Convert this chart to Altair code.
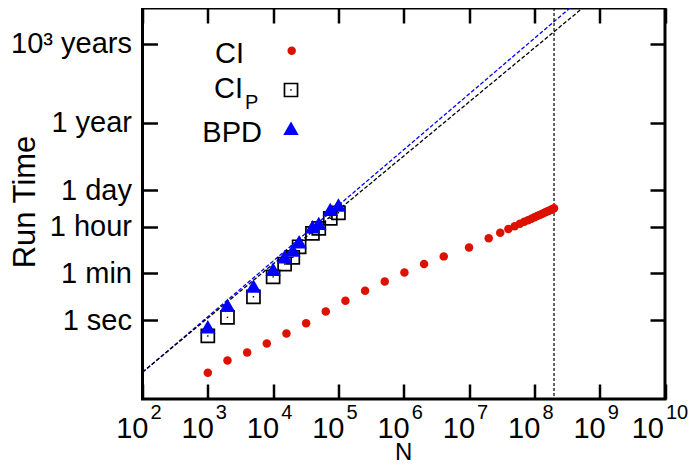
import altair as alt
import pandas as pd

# ---------------- data ----------------
ci_N = [1000, 2000, 4000, 8000, 16000, 32000, 64000, 128000, 256000, 512000,
        1024000, 2048000, 4096000, 1e7, 2e7, 3e7, 4e7, 5e7, 6e7, 7e7, 8e7, 9e7,
        1e8, 1.1e8, 1.2e8, 1.3e8, 1.4e8, 1.5e8, 1.6e8, 1.7e8, 1.8e8, 1.9e8, 2e8]
ci_T = [0.01, 0.029, 0.059, 0.13, 0.31, 0.75, 2.1, 5.4, 13, 29,
        65, 135, 264, 580, 1280, 2090, 2880, 3710, 4550, 5420, 6300, 7180,
        8090, 9000, 9930, 10870, 11830, 12770, 13740, 14690, 15670, 16670, 17660]

cip_N = [1000, 2000, 5000, 10000, 15000, 20000, 25000, 40000, 50000, 75000, 100000]
cip_T = [0.25, 1.27, 7.7, 44, 135, 242, 612, 1980, 3070, 7360, 12000]

bpd_N = [1000, 2000, 5000, 10000, 15000, 20000, 25000, 40000, 50000, 75000, 100000]
bpd_T = [0.56, 3.7, 19.6, 85, 255, 459, 949, 3530, 4750, 16200, 23600]

fit_bpd_N = [1e2, 1e9]
fit_bpd_T = [0.0102, 6.7e12]
fit_cip_N = [1e2, 1e9]
fit_cip_T = [0.01055, 2.5e12]

vline_N = [2e8]

x_exps = [2, 3, 4, 5, 6, 7, 8, 9, 10]
y_tick_vals = [1, 60, 3600, 86400, 31557600, 31557600000]
y_tick_labels = ["1 sec", "1 min", "1 hour", "1 day", "1 year", "10³ years"]

legend_labels = ["CI", "CI", "BPD"]
legend_sub = "P"

# ---------------- layout ----------------
W, H = 522.5, 391
FONT = "Liberation Sans"
RED = "#dd1100"
BLUE = "#0000ff"

xs = alt.Scale(type="log", domain=[1e2, 1e10])
ys = alt.Scale(type="log", domain=[1e-3, 7.3e11])

x_vals = [10 ** k for k in x_exps]
label_expr = " : ".join(f"datum.value == {v} ? '{l}'" for v, l in zip(y_tick_vals, y_tick_labels)) + " : ''"

tick_common = dict(tickSize=15, tickWidth=2.5, tickColor="black", offset=-15,
                   domain=False, grid=False, title=None)

ax_bottom = alt.Axis(values=x_vals, labels=False, orient="bottom", **tick_common)
ax_top = alt.Axis(values=x_vals, labels=False, orient="top", **tick_common)
ax_left = alt.Axis(values=y_tick_vals, labelExpr=label_expr, orient="left",
                   labelFont=FONT, labelFontSize=29, labelColor="black",
                   labelPadding=11, **tick_common)
ax_right = alt.Axis(values=y_tick_vals, labels=False, orient="right", **tick_common)

ci_df = pd.DataFrame({"N": ci_N, "T": ci_T})
cip_df = pd.DataFrame({"N": cip_N, "T": cip_T})
bpd_df = pd.DataFrame({"N": bpd_N, "T": bpd_T})
fb_df = pd.DataFrame({"N": fit_bpd_N, "T": fit_bpd_T})
fc_df = pd.DataFrame({"N": fit_cip_N, "T": fit_cip_T})
vl_df = pd.DataFrame({"N": vline_N})

fit_blue = alt.Chart(fb_df).mark_line(color=BLUE, strokeDash=[4, 2], strokeWidth=1.3, clip=True).encode(
    x=alt.X("N:Q", scale=xs, axis=ax_bottom),
    y=alt.Y("T:Q", scale=ys, axis=ax_left))
fit_black = alt.Chart(fc_df).mark_line(color="black", strokeDash=[4, 2], strokeWidth=1.3, clip=True).encode(
    x=alt.X("N:Q", scale=xs, axis=ax_top),
    y=alt.Y("T:Q", scale=ys, axis=ax_right))
vline = alt.Chart(vl_df).mark_rule(color="black", strokeDash=[3, 2], strokeWidth=1.2).encode(
    x=alt.X("N:Q", scale=xs, axis=None))

sq = alt.Chart(cip_df).mark_point(shape="square", size=170, filled=False, color="black", strokeWidth=1.7, opacity=1).encode(
    x=alt.X("N:Q", scale=xs, axis=None), y=alt.Y("T:Q", scale=ys, axis=None))
sq_dot = alt.Chart(cip_df).mark_point(shape="square", size=2, filled=True, color="black", opacity=1).encode(
    x=alt.X("N:Q", scale=xs, axis=None), y=alt.Y("T:Q", scale=ys, axis=None))
tri = alt.Chart(bpd_df).mark_point(shape="triangle-up", size=240, filled=True, color=BLUE, opacity=1).encode(
    x=alt.X("N:Q", scale=xs, axis=None), y=alt.Y("T:Q", scale=ys, axis=None))
ci = alt.Chart(ci_df).mark_circle(size=72, color=RED, opacity=1).encode(
    x=alt.X("N:Q", scale=xs, axis=None), y=alt.Y("T:Q", scale=ys, axis=None))

# x tick labels: 10 with superscript exponent
xl1 = pd.DataFrame({"N": [10 ** k for k in x_exps if k < 10], "e": [str(k) for k in x_exps if k < 10]})
xl2 = pd.DataFrame({"N": [10 ** k for k in x_exps if k >= 10], "e": [str(k) for k in x_exps if k >= 10]})
BASE_Y, EXP_Y = 430, 411
xb1 = alt.Chart(xl1).mark_text(align="right", baseline="alphabetic", dx=6, font=FONT, fontSize=29, color="black").encode(
    x=alt.X("N:Q", scale=xs, axis=None), y=alt.value(BASE_Y), text=alt.value("10"))
xe1 = alt.Chart(xl1).mark_text(align="left", baseline="alphabetic", dx=8, font=FONT, fontSize=20, color="black").encode(
    x=alt.X("N:Q", scale=xs, axis=None), y=alt.value(EXP_Y), text="e:N")
xb2 = alt.Chart(xl2).mark_text(align="right", baseline="alphabetic", dx=-1, font=FONT, fontSize=29, color="black").encode(
    x=alt.X("N:Q", scale=xs, axis=None), y=alt.value(BASE_Y), text=alt.value("10"))
xe2 = alt.Chart(xl2).mark_text(align="left", baseline="alphabetic", dx=1, font=FONT, fontSize=20, color="black").encode(
    x=alt.X("N:Q", scale=xs, axis=None), y=alt.value(EXP_Y), text="e:N")

one = pd.DataFrame({"a": [0]})

def txt(s, x, y, size=29, align="right", angle=0, baseline="alphabetic"):
    return alt.Chart(one).mark_text(align=align, baseline=baseline, font=FONT, fontSize=size,
                                    color="black", angle=angle).encode(
        x=alt.value(x), y=alt.value(y), text=alt.value(s))

title_y = txt("Run Time", -108, 194, size=31, align="center", angle=270)
title_x = txt("N", W / 2, 452, size=24, align="center")

leg_t1 = txt(legend_labels[0], 101.5, 54.7)
leg_t2 = txt(legend_labels[1], 100.5, 90.3)
leg_t2s = txt(legend_sub, 102.5, 101, size=20, align="left")
leg_t3 = txt(legend_labels[2], 119.5, 133.7)
leg_c = alt.Chart(one).mark_circle(size=72, color=RED, opacity=1).encode(x=alt.value(149.2), y=alt.value(42.7))
leg_s = alt.Chart(one).mark_point(shape="square", size=170, filled=False, color="black", strokeWidth=1.7, opacity=1).encode(
    x=alt.value(148.5), y=alt.value(82))
leg_sd = alt.Chart(one).mark_point(shape="square", size=2, filled=True, color="black", opacity=1).encode(
    x=alt.value(148.5), y=alt.value(82))
leg_tr = alt.Chart(one).mark_point(shape="triangle-up", size=240, filled=True, color=BLUE, opacity=1).encode(
    x=alt.value(148.5), y=alt.value(120.3))

chart = alt.layer(
    fit_blue, fit_black, vline, sq, sq_dot, tri, ci,
    xb1, xe1, xb2, xe2, title_y, title_x,
    leg_t1, leg_t2, leg_t2s, leg_t3, leg_c, leg_s, leg_sd, leg_tr,
).resolve_axis(x="independent", y="independent").properties(
    width=W, height=H, autosize="none",
    padding={"left": 134.5, "top": 0, "right": 27, "bottom": 66},
    background="white",
).configure_view(stroke="black", strokeWidth=3)

chart.save("out.html", embed_options={"renderer": "svg", "actions": False})
